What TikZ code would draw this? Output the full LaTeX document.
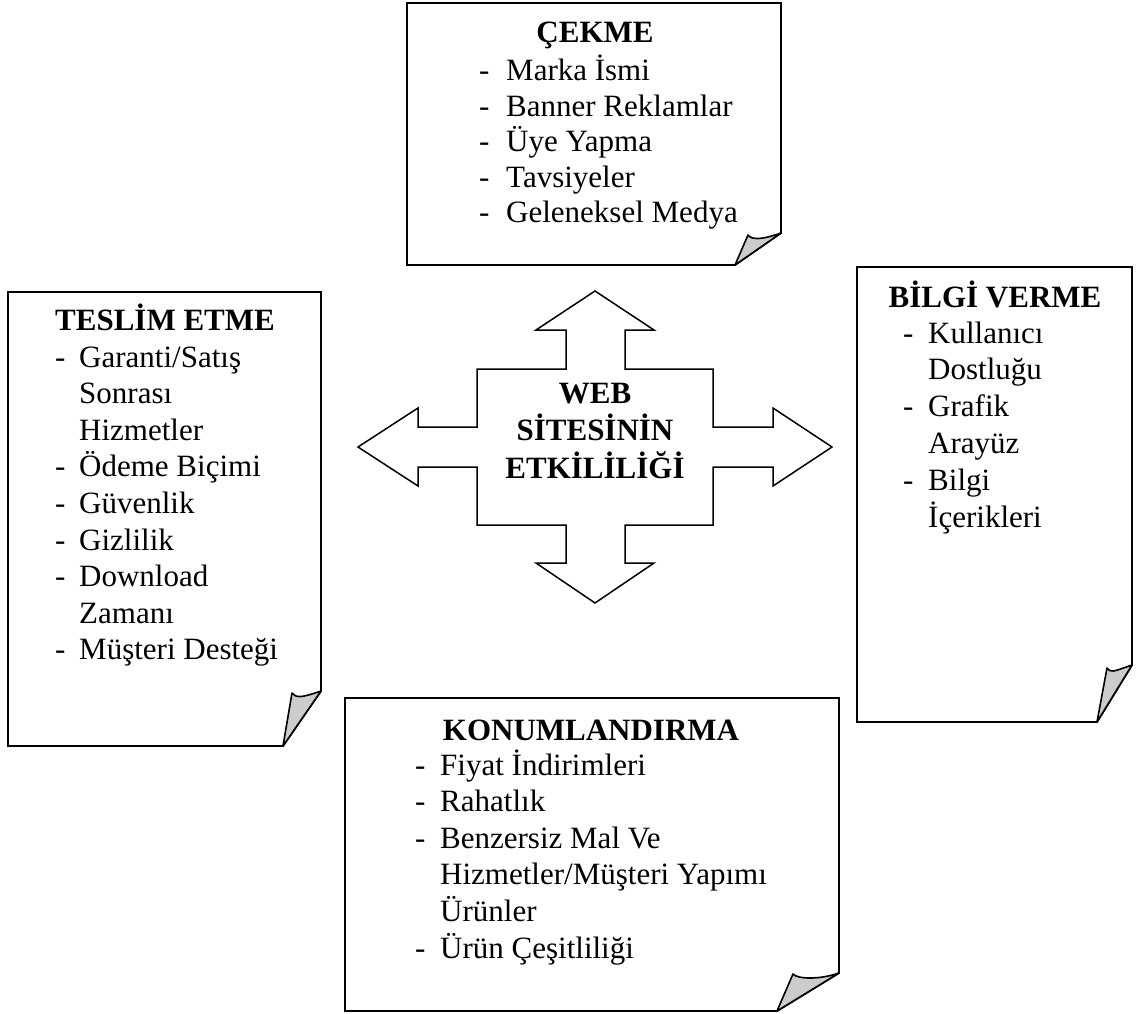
\documentclass[tikz,border=0pt]{standalone}
\usepackage{fontspec}
\setmainfont{Liberation Serif}
\usetikzlibrary{calc}

\definecolor{flapgray}{RGB}{204,204,204}

% folded sheet: left, top, right, bottom, fold x on bottom edge, fold y on right edge, curl point
\newcommand{\leafsheet}[7]{%
  \draw[sheet] (#1,#2) -- (#3,#2) -- (#3,#6) -- (#5,#4) -- (#1,#4) -- cycle;
  \draw[flap] (#5,#4) -- (#7)
    .. controls ($(#7)+(4,5)$) and ($(#3,#6)+(-20,7)$) .. (#3,#6) -- cycle;}
% bulleted line: name, dash x, text x, baseline y, text
\newcommand{\listline}[5]{%
  \node[dashmark] (#1d) at (#2,#4) {-};
  \node[entrytext] (#1) at (#3,#4) {#5};}
% continuation line: name, text x, baseline y, text
\newcommand{\wrapline}[4]{%
  \node[entrytext] (#1) at (#2,#3) {#4};}

\begin{document}
\begin{tikzpicture}[x=1pt,y=-1pt,
  every node/.style={font=\fontsize{31}{36.6}\selectfont, inner sep=0pt},
  sheet/.style={draw=black, line width=1.9pt, fill=white, line join=miter},
  flap/.style={draw=black, line width=1.6pt, fill=flapgray, line join=round},
  crossarrow/.style={draw=black, line width=1.5pt, fill=white, line join=miter},
  heading/.style={font=\fontsize{31}{36.6}\selectfont\bfseries, anchor=base},
  hubtext/.style={font=\fontsize{31}{36.6}\selectfont\bfseries, anchor=base},
  dashmark/.style={anchor=base west},
  entrytext/.style={anchor=base west}]
\useasboundingbox (0,0) rectangle (1136,1014);

% ---- the four sheets ----
\coordinate (cTop) at (748,235);
\coordinate (cLeft) at (292,693);
\coordinate (cRight) at (1107,668);
\coordinate (cBottom) at (793,974);
\leafsheet{407}{3}{781}{265}{735}{233}{cTop}
\leafsheet{8}{292}{321}{746}{283}{691}{cLeft}
\leafsheet{857}{267}{1132}{722}{1097}{665}{cRight}
\leafsheet{345}{698}{839}{1011}{777}{973}{cBottom}

% ---- four-way arrow ----
\draw[crossarrow] (595,291) -- (654,330) -- (625,330) -- (625,369) -- (713,369)
  -- (713,427) -- (773,427) -- (773,408) -- (832,447) -- (773,486) -- (773,467)
  -- (713,467) -- (713,525) -- (625,525) -- (625,563) -- (654,563) -- (595,603)
  -- (536,563) -- (566,563) -- (566,525) -- (477,525) -- (477,467) -- (418,467)
  -- (418,486) -- (358,447) -- (418,408) -- (418,427) -- (477,427) -- (477,369)
  -- (566,369) -- (566,330) -- (536,330) -- cycle;
\node[hubtext] (hubA) at (595,403) {WEB};
\node[hubtext] (hubB) at (595,440) {SİTESİNİN};
\node[hubtext] (hubC) at (595,478) {ETKİLİLİĞİ};

% ---- ÇEKME ----
\node[heading] (pullT) at (595,43) {ÇEKME};
\listline{pull1}{479}{506}{81}{Marka İsmi}
\listline{pull2}{479}{506}{116.4}{Banner Reklamlar}
\listline{pull3}{479}{506}{151.8}{Üye Yapma}
\listline{pull4}{479}{506}{187.2}{Tavsiyeler}
\listline{pull5}{479}{506}{222.6}{Geleneksel Medya}

% ---- TESLİM ETME ----
\node[heading] (delT) at (165,330) {TESLİM ETME};
\listline{del1}{55}{79}{367}{Garanti/Satış}
\wrapline{del1b}{79}{403.6}{Sonrası}
\wrapline{del1c}{79}{440.2}{Hizmetler}
\listline{del2}{55}{79}{476.8}{Ödeme Biçimi}
\listline{del3}{55}{79}{513.4}{Güvenlik}
\listline{del4}{55}{79}{550}{Gizlilik}
\listline{del5}{55}{79}{586.6}{Download}
\wrapline{del5b}{79}{623.2}{Zamanı}
\listline{del6}{55}{79}{659.8}{Müşteri Desteği}

% ---- BİLGİ VERME ----
\node[heading] (infT) at (995,307) {BİLGİ VERME};
\listline{inf1}{903}{928}{343}{Kullanıcı}
\wrapline{inf1b}{928}{379.8}{Dostluğu}
\listline{inf2}{903}{928}{416.6}{Grafik}
\wrapline{inf2b}{928}{453.4}{Arayüz}
\listline{inf3}{903}{928}{490.2}{Bilgi}
\wrapline{inf3b}{928}{527}{İçerikleri}

% ---- KONUMLANDIRMA ----
\node[heading] (posT) at (591,740) {KONUMLANDIRMA};
\listline{pos1}{415}{440}{775}{Fiyat İndirimleri}
\listline{pos2}{415}{440}{811.6}{Rahatlık}
\listline{pos3}{415}{440}{848.2}{Benzersiz Mal Ve}
\wrapline{pos3b}{440}{884.8}{Hizmetler/Müşteri Yapımı}
\wrapline{pos3c}{440}{921.4}{Ürünler}
\listline{pos4}{415}{440}{958}{Ürün Çeşitliliği}
\end{tikzpicture}
\end{document}
